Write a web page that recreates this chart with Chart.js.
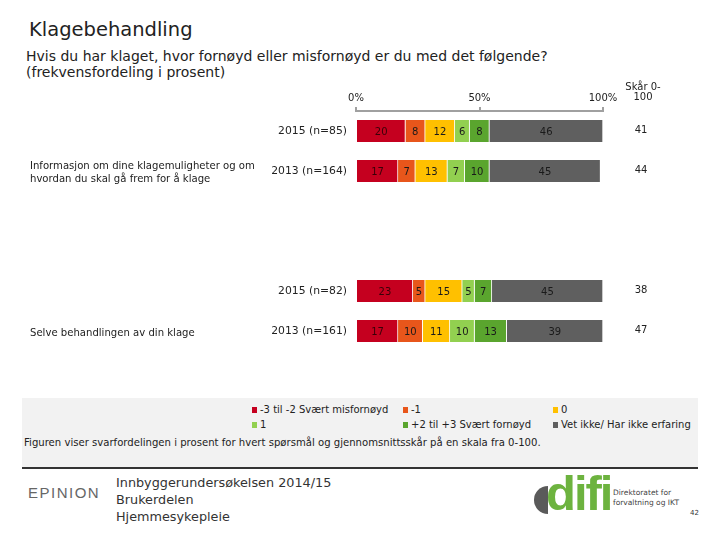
<!DOCTYPE html>
<html>
<head>
<meta charset="utf-8">
<script src="https://cdn.jsdelivr.net/npm/chart.js@4"></script>
<style>
  body { margin: 0; width: 720px; height: 540px; background: #fff; font-family: "DejaVu Sans", sans-serif; color: #222; position: relative; overflow: hidden; }
  .abs { position: absolute; white-space: nowrap; }
  #title { left: 29px; top: 18px; font-size: 19.5px; }
  #subtitle { left: 26px; top: 48px; font-size: 14px; line-height: 16px; }
  #chartCanvas { position: absolute; left: 0; top: 80px; }
  #box { position: absolute; left: 22px; top: 398px; width: 676px; height: 69px; background: #f2f2f2; border-bottom: 2px solid #333; }
  #legend { position: absolute; left: 0; top: 0; font-size: 10px; }
  .leg { position: absolute; white-space: nowrap; }
  .leg span.mk { display: inline-block; width: 5px; height: 6px; margin-right: 3px; vertical-align: 0px; }
  #note { left: 2px; top: 39px; font-size: 10.1px; }
  .foot { font-size: 12.8px; color: #333; line-height: 17px; }
</style>
</head>
<body>
<div id="title" class="abs">Klagebehandling</div>
<div id="subtitle" class="abs">Hvis du har klaget, hvor fornøyd eller misfornøyd er du med det følgende?<br>(frekvensfordeling i prosent)</div>

<canvas id="chartCanvas" width="720" height="275"></canvas>

<div id="box">
  <div id="legend"></div>
  <div id="note" class="abs">Figuren viser svarfordelingen i prosent for hvert spørsmål og gjennomsnittsskår på en skala fra 0-100.</div>
</div>

<div class="abs" style="left:28px; top:484px; font-size:15px; letter-spacing:1.5px; color:#666; font-family:'Liberation Sans',sans-serif;">EPINION</div>
<div class="abs foot" style="left:116px; top:474px;">Innbyggerundersøkelsen 2014/15<br>Brukerdelen<br>Hjemmesykepleie</div>

<div class="abs" style="left:534px; top:486px; width:14px; height:28px; border-radius:14px 0 0 14px; background:#5a5a5a;"></div>
<div class="abs" style="left:546px; top:465px; font-size:49px; font-weight:bold; color:#6db33f; letter-spacing:-2px; font-family:'Liberation Sans',sans-serif;">difi</div>
<div class="abs" style="left:613px; top:488px; font-size:7.5px; line-height:10px; color:#444;">Direktoratet for<br>forvaltning og IKT</div>
<div class="abs" style="left:690px; top:509px; font-size:7px; color:#333;">42</div>

<script>
// categories (two empty rows keep the gap between the two questions)
const categories = ['2015 (n=85)', '2013 (n=164)', '', '', '2015 (n=82)', '2013 (n=161)'];
const questions = [
    ['Informasjon om dine klagemuligheter og om', 'hvordan du skal gå frem for å klage'],
    ['Selve behandlingen av din klage']
];
const questionRows = [1, 5];

// answer series (percent)
const seriesNames = ['-3 til -2 Svært misfornøyd', '-1', '0', '1', '+2 til +3 Svært fornøyd', 'Vet ikke/ Har ikke erfaring'];
const seriesColors = ['#c5001f', '#e8561b', '#ffc000', '#92d050', '#5aa52e', '#5f5f5f'];
const verySatisfiedNeg = [20, 17, null, null, 23, 17];
const minusOne = [8, 7, null, null, 5, 10];
const zero = [12, 13, null, null, 15, 11];
const plusOne = [6, 7, null, null, 5, 10];
const verySatisfiedPos = [8, 10, null, null, 7, 13];
const dontKnow = [46, 45, null, null, 45, 39];
const scores = [41, 44, null, null, 38, 47];

const xTicks = [0, 50, 100];

const seriesValues = [verySatisfiedNeg, minusOne, zero, plusOne, verySatisfiedPos, dontKnow];

// legend in the grey box (3 columns, 2 rows)
const legendPos = [[230, 6], [381, 6], [531, 6], [230, 21], [381, 21], [531, 21]];
const legendEl = document.getElementById('legend');
seriesNames.forEach((name, i) => {
    const d = document.createElement('div');
    d.className = 'leg';
    d.style.left = legendPos[i][0] + 'px';
    d.style.top = legendPos[i][1] + 'px';
    d.innerHTML = '<span class="mk" style="background:' + seriesColors[i] + '"></span>' + name;
    legendEl.appendChild(d);
});

// value labels inside the segments + question texts + score column
const extrasPlugin = {
    id: 'extras',
    afterDatasetsDraw(chart) {
        const ctx = chart.ctx;
        ctx.save();
        ctx.font = '10px "DejaVu Sans"';
        ctx.textAlign = 'center';
        ctx.textBaseline = 'middle';
        chart.data.datasets.forEach((ds, di) => {
            chart.getDatasetMeta(di).data.forEach((bar, i) => {
                const v = ds.data[i];
                if (v == null) return;
                ctx.fillStyle = di === 0 ? '#3a0008' : '#1a1a1a';
                ctx.fillText(v, (bar.x + bar.base) / 2, bar.y + 1);
            });
        });

        const yScale = chart.scales.y;
        ctx.textAlign = 'left';
        ctx.fillStyle = '#222';
        ctx.font = '10.1px "DejaVu Sans"';
        questions.forEach((lines, q) => {
            const yc = yScale.getPixelForValue(questionRows[q]);
            lines.forEach((t, li) => {
                ctx.fillText(t, 30, yc + 2 + (li - (lines.length - 1) / 2) * 12.5);
            });
        });

        ctx.textAlign = 'center';
        ctx.font = '10px "DejaVu Sans"';
        ctx.fillText('Skår 0-', 643, 7);
        ctx.fillText('100', 643, 17);
        scores.forEach((s, i) => {
            if (s == null) return;
            ctx.fillText(s, 641, yScale.getPixelForValue(i) - 1);
        });
        ctx.restore();
    }
};

new Chart(document.getElementById('chartCanvas'), {
    type: 'bar',
    data: {
        labels: categories,
        datasets: seriesNames.map((name, i) => ({
            label: name,
            data: seriesValues[i],
            backgroundColor: seriesColors[i],
            borderColor: 'rgba(255,255,255,0.85)',
            borderWidth: { top: 0, bottom: 0, left: 0, right: 1 },
            borderSkipped: false,
            barThickness: 22
        }))
    },
    options: {
        responsive: false,
        animation: false,
        indexAxis: 'y',
        layout: { padding: { left: 0, right: 117, top: 0, bottom: 4 } },
        plugins: {
            legend: { display: false },
            tooltip: { enabled: false }
        },
        scales: {
            x: {
                position: 'top',
                stacked: true,
                min: 0,
                max: 100,
                afterBuildTicks: scale => { scale.ticks = xTicks.map(v => ({ value: v })); },
                afterFit: scale => { scale.height = 31; scale.paddingLeft = 0; scale.paddingRight = 0; },
                ticks: {
                    callback: v => v + '%',
                    font: { family: 'DejaVu Sans', size: 10 },
                    color: '#222',
                    padding: 3,
                    maxRotation: 0
                },
                grid: { drawOnChartArea: false, drawTicks: true, tickLength: 4, color: '#a0a0a0', lineWidth: 2 },
                border: { display: true, color: '#a0a0a0', width: 2 }
            },
            y: {
                stacked: true,
                afterFit: scale => { scale.width = 356; scale.paddingTop = 0; scale.paddingBottom = 0; },
                ticks: {
                    font: { family: 'DejaVu Sans', size: 10.8 },
                    color: '#222',
                    padding: 9
                },
                grid: { display: false, drawTicks: false },
                border: { display: false }
            }
        }
    },
    plugins: [extrasPlugin]
});
</script>
</body>
</html>
